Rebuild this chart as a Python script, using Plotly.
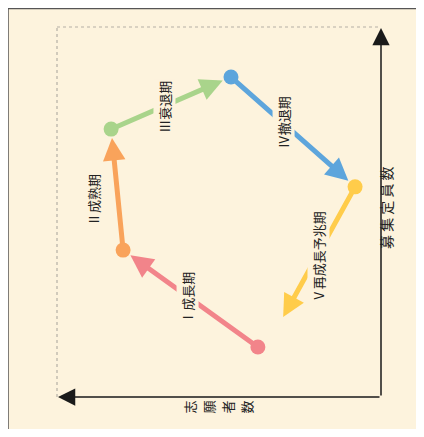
import plotly.graph_objects as go

# Data (arbitrary units): x = 志願者数 (increasing to the left), y = 募集定員数
phases = ["Ⅰ成長期", "Ⅱ成熟期", "Ⅲ衰退期", "Ⅳ撤退期", "Ⅴ再成長予兆期"]
applicants = [38.0, 79.6, 83.3, 46.3, 8.0, 30.2]
capacity = [13.5, 39.7, 72.4, 86.5, 56.8, 21.6]
colors = ["#F2848A", "#F9A35B", "#A9D48B", "#5DA5DC", "#FFCC4A"]
label_x = [59.6, 88.9, 66.7, 30.2, 19.4]
label_y = [26.8, 53.2, 78.4, 74.3, 37.8]
label_bg = [True, False, True, True, True]
x_title = "志願者数"
y_title = "募 集 定 員 数"

BG = "#FDF3DD"
OFF = 8  # page body margin
W, H = 424 - OFF, 437 - 2 * OFF
L, T = 57 - OFF, 27 - OFF
R = W - (381 - OFF)
B = H - (397 - OFF)
pw, ph = W - L - R, H - T - B

def px_x(p):  # screen pixel -> paper x
    return (p - OFF - L) / pw

def px_y(p):  # screen pixel -> paper y
    return (H - B - (p - OFF)) / ph

fig = go.Figure()

# dots at start of each phase
fig.add_trace(go.Scatter(
    x=applicants[:5], y=capacity[:5], mode="markers",
    marker=dict(size=15, color=colors, line=dict(width=0)),
    hoverinfo="skip", showlegend=False,
))

annotations = []
# phase arrows
for i in range(5):
    annotations.append(dict(
        x=applicants[i + 1], y=capacity[i + 1], ax=applicants[i], ay=capacity[i],
        xref="x", yref="y", axref="x", ayref="y", text="", showarrow=True,
        arrowhead=2, arrowsize=0.9, arrowwidth=5, arrowcolor=colors[i],
        standoff=(9 if i < 4 else 0), startstandoff=0,
    ))
# phase labels
for i in range(5):
    annotations.append(dict(
        x=label_x[i], y=label_y[i], xref="x", yref="y", text=phases[i],
        showarrow=False, textangle=-90,
        font=dict(family="Noto Sans CJK JP", size=13, color="#222"),
        bgcolor=BG if label_bg[i] else "rgba(0,0,0,0)", borderpad=1,
    ))
# axis arrows
annotations.append(dict(
    x=1, y=0.997, ax=1, ay=0, xref="x domain", yref="y domain",
    axref="x domain", ayref="y domain",
    text="", showarrow=True, arrowhead=2, arrowsize=2.3, arrowwidth=1.5, arrowcolor="#1a1a1a",
))
annotations.append(dict(
    x=0.003, y=0, ax=1, ay=0, xref="x domain", yref="y domain",
    axref="x domain", ayref="y domain",
    text="", showarrow=True, arrowhead=2, arrowsize=2.3, arrowwidth=1.5, arrowcolor="#1a1a1a",
))
# axis titles
annotations.append(dict(
    x=px_x(398), y=px_y(208), xref="paper", yref="paper", text=y_title,
    showarrow=False, textangle=-90,
    font=dict(family="Noto Sans CJK JP", size=14, color="#222"),
))
for ch, cx in zip(x_title, [189, 208, 227, 246]):
    annotations.append(dict(
        x=px_x(cx), y=px_y(416), xref="paper", yref="paper", text=ch,
        showarrow=False, textangle=-90,
        font=dict(family="Noto Sans CJK JP", size=13, color="#222"),
    ))

shapes = [
    # top and left border of the panel
    dict(type="line", xref="paper", yref="paper", layer="above",
         x0=px_x(7), x1=px_x(440), y0=px_y(8.5), y1=px_y(8.5),
         line=dict(color="#555", width=1.5)),
    dict(type="line", xref="paper", yref="paper", layer="above",
         x0=px_x(8), x1=px_x(8), y0=px_y(8), y1=px_y(450),
         line=dict(color="#555", width=1.5)),
    # dotted top and left borders
    dict(type="line", xref="paper", yref="paper", x0=0, x1=1, y0=1, y1=1,
         line=dict(color="#b5b0a5", width=1.2, dash="dot")),
    dict(type="line", xref="paper", yref="paper", x0=0, x1=0, y0=0, y1=1,
         line=dict(color="#b5b0a5", width=1.2, dash="dot")),
]

fig.update_layout(
    width=W, height=H, margin=dict(l=L, r=R, t=T, b=B),
    paper_bgcolor=BG, plot_bgcolor="rgba(0,0,0,0)",
    xaxis=dict(range=[100, 0], visible=False, fixedrange=True),
    yaxis=dict(range=[0, 100], visible=False, fixedrange=True),
    annotations=annotations, shapes=shapes, showlegend=False,
)

fig.write_html("out.html")
